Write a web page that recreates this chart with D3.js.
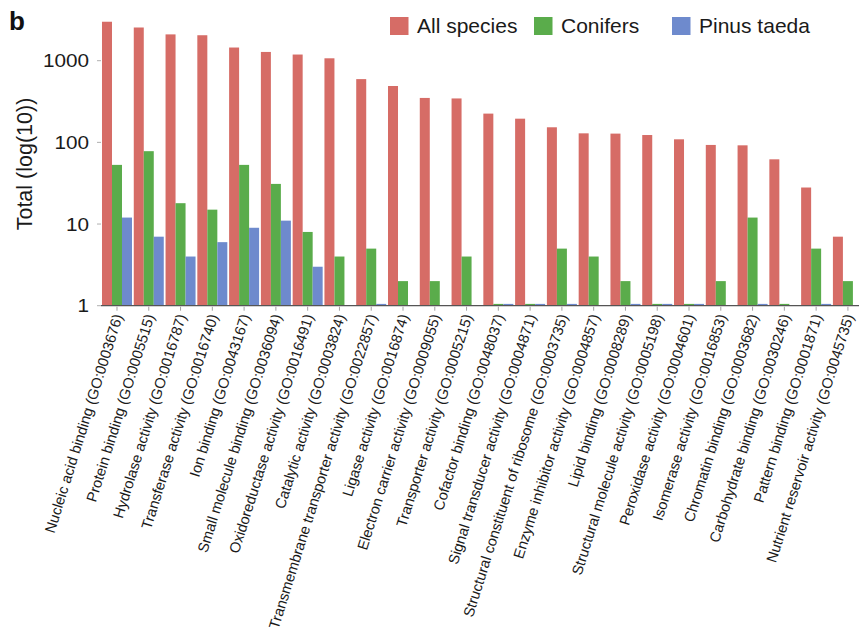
<!DOCTYPE html>
<html>
<head>
<meta charset="utf-8">
<script src="https://cdn.jsdelivr.net/npm/d3@7"></script>
<style>
  body { margin: 0; background: #fff; }
  svg { display: block; font-family: "Liberation Sans", Arial, Helvetica, sans-serif; }
</style>
</head>
<body>
<svg id="chart" width="859" height="632"></svg>
<script>
// GO molecular-function categories, most frequent first
const categories = [
  "Nucleic acid binding (GO:0003676)",
  "Protein binding (GO:0005515)",
  "Hydrolase activity (GO:0016787)",
  "Transferase activity (GO:0016740)",
  "Ion binding (GO:0043167)",
  "Small molecule binding (GO:0036094)",
  "Oxidoreductase activity (GO:0016491)",
  "Catalytic activity (GO:0003824)",
  "Transmembrane transporter activity (GO:0022857)",
  "Ligase activity (GO:0016874)",
  "Electron carrier activity (GO:0009055)",
  "Transporter activity (GO:0005215)",
  "Cofactor binding (GO:0048037)",
  "Signal transducer activity (GO:0004871)",
  "Structural constituent of ribosome (GO:0003735)",
  "Enzyme inhibitor activity (GO:0004857)",
  "Lipid binding (GO:0008289)",
  "Structural molecule activity (GO:0005198)",
  "Peroxidase activity (GO:0004601)",
  "Isomerase activity (GO:0016853)",
  "Chromatin binding (GO:0003682)",
  "Carbohydrate binding (GO:0030246)",
  "Pattern binding (GO:0001871)",
  "Nutrient reservoir activity (GO:0045735)"
];

const seriesNames = ["All species", "Conifers", "Pinus taeda"];

// Totals per category (0 = no entry)
const allSpecies = [3000, 2550, 2100, 2050, 1450, 1280, 1190, 1070, 595, 490, 350, 345,
                    225, 195, 153, 129, 128, 123, 109, 93, 92, 62, 28, 7];
const conifers   = [53, 78, 18, 15, 53, 31, 8, 4, 5, 2, 2, 4,
                    1, 1, 5, 4, 2, 1, 1, 2, 12, 1, 5, 2];
const pinusTaeda = [12, 7, 4, 6, 9, 11, 3, 0, 1, 0, 0, 0,
                    1, 1, 1, 0, 1, 1, 1, 0, 1, 0, 1, 0];

const yTickValues = [1, 10, 100, 1000];
const seriesColors = ["#d66c66", "#5aac4b", "#6e8acd"];

const seriesValues = [allSpecies, conifers, pinusTaeda];
const rows = categories.map((c, i) => ({
  category: c,
  values: seriesNames.map((s, k) => ({ series: s, value: seriesValues[k][i], k }))
}));

const svg = d3.select("#chart");

const x0 = d3.scaleBand()
  .domain(categories)
  .range([101.1, 863.8])
  .paddingInner(0.056)
  .paddingOuter(0.028);

const x1 = d3.scaleBand()
  .domain(seriesNames)
  .range([0, x0.bandwidth()]);

const y = d3.scaleLog()
  .domain([1, 1000])
  .range([305.7, 60.7]);

const baseY = y(1);

// Bars
const groups = svg.append("g")
  .selectAll("g")
  .data(rows)
  .join("g")
  .attr("transform", d => `translate(${x0(d.category)},0)`);

groups.selectAll("rect")
  .data(d => d.values.filter(v => v.value > 0))
  .join("rect")
  .attr("x", d => x1(d.series))
  .attr("width", x1.bandwidth())
  .attr("y", d => Math.min(y(d.value), baseY - 1.8))
  .attr("height", d => Math.max(baseY - y(d.value), 1.8))
  .attr("fill", d => seriesColors[d.k]);

// Y axis ticks and labels
const yAxis = svg.append("g");
yAxis.selectAll("line")
  .data(yTickValues)
  .join("line")
  .attr("x1", 97).attr("x2", 101)
  .attr("y1", d => y(d)).attr("y2", d => y(d))
  .attr("stroke", "#b0b0b0").attr("stroke-width", 1);

yAxis.selectAll("text")
  .data(yTickValues)
  .join("text")
  .attr("transform", d => `translate(89,${y(d)}) scale(1.12,1)`)
  .attr("text-anchor", "end")
  .attr("dy", "0.36em")
  .attr("font-size", 18.5)
  .attr("fill", "#1a1a1a")
  .text(d => d3.format("d")(d));

// X axis baseline, ticks and rotated labels
svg.append("line")
  .attr("x1", 101).attr("x2", 859)
  .attr("y1", baseY).attr("y2", baseY)
  .attr("stroke", "#555").attr("stroke-width", 1.3);

const xAxis = svg.append("g");
xAxis.selectAll("line")
  .data(categories)
  .join("line")
  .attr("x1", d => x0(d) + x0.bandwidth() / 2)
  .attr("x2", d => x0(d) + x0.bandwidth() / 2)
  .attr("y1", baseY + 1).attr("y2", baseY + 5)
  .attr("stroke", "#a0a0a0");

xAxis.selectAll("text")
  .data(categories)
  .join("text")
  .attr("transform", d => `translate(${x0(d) + x0.bandwidth() / 2 + 6},316) rotate(-72.5)`)
  .attr("text-anchor", "end")
  .attr("font-size", 14.7)
  .attr("fill", "#1a1a1a")
  .text(d => d);

// Y axis title
svg.append("text")
  .attr("transform", "translate(32,164) rotate(-90)")
  .attr("text-anchor", "middle")
  .attr("font-size", 21.5)
  .attr("fill", "#1a1a1a")
  .text("Total (log(10))");

// Panel letter
svg.append("text")
  .attr("x", 9).attr("y", 30)
  .attr("font-size", 26)
  .attr("font-weight", "bold")
  .attr("fill", "#111")
  .text("b");

// Legend
const legendX = [390, 534, 672];
const legend = svg.append("g")
  .selectAll("g")
  .data(seriesNames)
  .join("g")
  .attr("transform", (d, i) => `translate(${legendX[i]},17)`);

legend.append("rect")
  .attr("width", 18.5).attr("height", 18)
  .attr("fill", (d, i) => seriesColors[i]);

legend.append("text")
  .attr("x", 27).attr("y", 16)
  .attr("font-size", 21)
  .attr("fill", "#1a1a1a")
  .text(d => d);
</script>
</body>
</html>
